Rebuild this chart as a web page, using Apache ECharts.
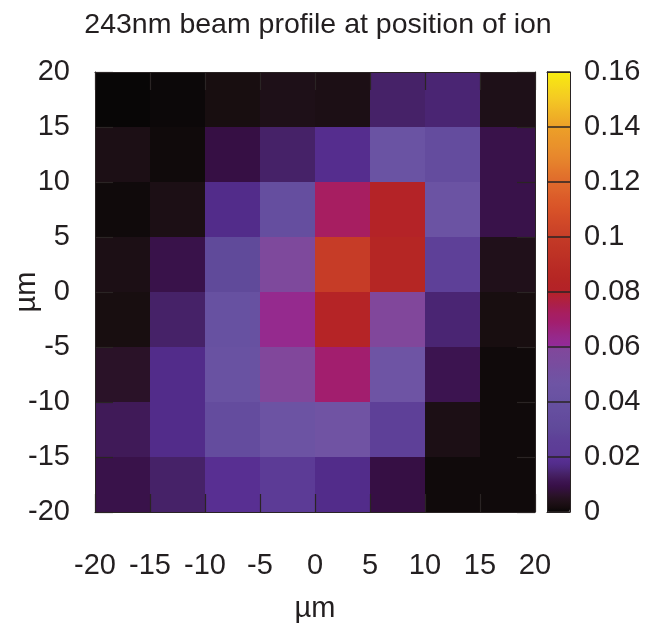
<!DOCTYPE html>
<html>
<head>
<meta charset="utf-8">
<script src="https://cdn.jsdelivr.net/npm/echarts@6/dist/echarts.min.js"></script>
<style>
  html, body { margin: 0; padding: 0; background: #ffffff; }
  #chart { width: 651px; height: 630px; }
</style>
</head>
<body>
<div id="chart"></div>
<script>
// Cell centres in µm (5 µm pitch)
const xCentres = [-17.5, -12.5, -7.5, -2.5, 2.5, 7.5, 12.5, 17.5];
const yCentres = [17.5, 12.5, 7.5, 2.5, -2.5, -7.5, -12.5, -17.5];

// Measured intensity, one row per y position (top to bottom)
const rowY17 = [0.000, 0.0005, 0.002, 0.0035, 0.003, 0.014, 0.015, 0.0035];
const rowY12 = [0.003, 0.001, 0.009, 0.014, 0.018, 0.042, 0.035, 0.010];
const rowY7 = [0.001, 0.003, 0.017, 0.038, 0.072, 0.081, 0.043, 0.010];
const rowY2 = [0.003, 0.010, 0.031, 0.057, 0.100, 0.085, 0.026, 0.004];
const rowYm2 = [0.002, 0.014, 0.040, 0.063, 0.083, 0.059, 0.015, 0.002];
const rowYm7 = [0.006, 0.017, 0.041, 0.059, 0.069, 0.047, 0.011, 0.001];
const rowYm12 = [0.012, 0.017, 0.035, 0.045, 0.048, 0.026, 0.003, 0.001];
const rowYm17 = [0.010, 0.014, 0.019, 0.021, 0.017, 0.009, 0.001, 0.001];
const intensityRows = [rowY17, rowY12, rowY7, rowY2, rowYm2, rowYm7, rowYm12, rowYm17];

// Colour-bar range and ticks
const cbMin = 0, cbMax = 0.16, cbStep = 0.02;

// Palette: black -> violet -> magenta -> red -> orange -> yellow
const paletteStops = [
  [0.000, '#080606'], [0.002, '#180e10'], [0.004, '#20101a'], [0.006, '#2a1228'],
  [0.009, '#360f44'], [0.011, '#3c1450'], [0.012, '#401a58'], [0.014, '#462268'],
  [0.017, '#522c8a'], [0.0199, '#5a3096'], [0.0201, '#5c3a96'], [0.026, '#5e4098'],
  [0.031, '#604a9a'], [0.035, '#644c9e'], [0.0399, '#6650a0'], [0.0401, '#6852a2'],
  [0.047, '#6e54a4'], [0.0599, '#82469a'], [0.0601, '#94289a'], [0.063, '#952a8e'],
  [0.069, '#a21e6e'], [0.073, '#a81e5c'], [0.0799, '#b42228'], [0.085, '#b52624'],
  [0.0999, '#c43a26'], [0.1001, '#c83e28'], [0.110, '#d85228'], [0.120, '#e06a2c'],
  [0.130, '#e88a2c'], [0.140, '#eca028'], [0.150, '#f4c824'], [0.160, '#f8ec10']
];

function hexToRgb(h) {
  const n = parseInt(h.slice(1), 16);
  return [(n >> 16) & 255, (n >> 8) & 255, n & 255];
}
function paletteAt(v) {
  for (let i = 1; i < paletteStops.length; i++) {
    const [v1, c1] = paletteStops[i];
    if (v <= v1) {
      const [v0, c0] = paletteStops[i - 1];
      const t = (v - v0) / (v1 - v0);
      const a = hexToRgb(c0), b = hexToRgb(c1);
      const r = a.map((x, k) => Math.round(x + (b[k] - x) * t));
      return 'rgb(' + r.join(',') + ')';
    }
  }
  return paletteStops[paletteStops.length - 1][1];
}
const paletteColors = [];
for (let i = 0; i <= 320; i++) paletteColors.push(paletteAt(cbMin + (cbMax - cbMin) * i / 320));

// [x, y, value] triples for the cells
const cells = [];
intensityRows.forEach((row, j) => row.forEach((v, i) => cells.push([xCentres[i], yCentres[j], v])));
const halfX = (xCentres[1] - xCentres[0]) / 2;
const halfY = (yCentres[0] - yCentres[1]) / 2;

const FONT = "'Liberation Sans', Arial, sans-serif";
const TXT = '#231f20';
const EDGE = '#2a2424';
const FS = 29;

const chart = echarts.init(document.getElementById('chart'), null, { renderer: 'canvas' });

function frameAxis(extra) {
  return Object.assign({
    type: 'value', z: 6,
    splitLine: { show: false },
    axisLine: { show: true, onZero: false, lineStyle: { color: EDGE, width: 1 } },
    axisTick: { show: true, inside: true, length: 18, lineStyle: { color: EDGE, width: 1.2 } },
    axisLabel: { show: false }
  }, extra);
}

chart.setOption({
  animation: false,
  backgroundColor: '#ffffff',
  title: {
    text: '243nm beam profile at position of ion',
    left: 313, top: 6, textAlign: 'center',
    textStyle: { fontFamily: FONT, fontSize: 28.5, fontWeight: 'normal', color: TXT }
  },
  grid: [
    { left: 95, top: 72, width: 440, height: 440, outerBoundsMode: 'none', containLabel: false },
    { left: 547, top: 72, width: 23, height: 440, outerBoundsMode: 'none', containLabel: false }
  ],
  xAxis: [
    frameAxis({
      gridIndex: 0, position: 'bottom', min: -20, max: 20, interval: 5,
      name: 'µm', nameLocation: 'middle', nameGap: 82, nameMoveOverlap: false,
      nameTextStyle: { fontFamily: FONT, fontSize: FS, color: TXT },
      axisLabel: { show: true, margin: 39, fontFamily: FONT, fontSize: FS, color: TXT }
    }),
    frameAxis({ gridIndex: 0, position: 'top', min: -20, max: 20, interval: 5 }),
    frameAxis({ gridIndex: 1, position: 'bottom', min: 0, max: 1, axisTick: { show: false } }),
    frameAxis({ gridIndex: 1, position: 'top', min: 0, max: 1, axisTick: { show: false } })
  ],
  yAxis: [
    frameAxis({
      gridIndex: 0, position: 'left', min: -20, max: 20, interval: 5,
      name: 'µm', nameLocation: 'middle', nameGap: 54, nameRotate: 90, nameMoveOverlap: false,
      nameTextStyle: { fontFamily: FONT, fontSize: FS, color: TXT },
      axisLabel: { show: true, margin: 25, fontFamily: FONT, fontSize: FS, color: TXT }
    }),
    frameAxis({ gridIndex: 0, position: 'right', min: -20, max: 20, interval: 5 }),
    frameAxis({
      gridIndex: 1, position: 'right', min: cbMin, max: cbMax, interval: cbStep,
      axisTick: { show: true, inside: true, length: 12, lineStyle: { color: EDGE, width: 1.5 } },
      axisLabel: { show: true, margin: 14, fontFamily: FONT, fontSize: FS, color: TXT }
    }),
    frameAxis({
      gridIndex: 1, position: 'left', min: cbMin, max: cbMax, interval: cbStep,
      axisTick: { show: true, inside: true, length: 12, lineStyle: { color: EDGE, width: 1.5 } }
    })
  ],
  visualMap: {
    type: 'continuous', seriesIndex: 0, dimension: 2,
    min: cbMin, max: cbMax, calculable: false, orient: 'vertical',
    left: 547, top: 72, itemWidth: 23, itemHeight: 440, padding: 0,
    inRange: { color: paletteColors }, hoverLink: false
  },
  series: [{
    type: 'custom', xAxisIndex: 0, yAxisIndex: 0, z: 2,
    encode: { x: 0, y: 1 },
    data: cells,
    renderItem: function (params, api) {
      const x = api.value(0), y = api.value(1);
      const p0 = api.coord([x - halfX, y + halfY]);
      const p1 = api.coord([x + halfX, y - halfY]);
      return {
        type: 'rect',
        shape: { x: p0[0], y: p0[1], width: p1[0] - p0[0], height: p1[1] - p0[1] },
        style: { fill: api.visual('color') }
      };
    }
  }]
});
</script>
</body>
</html>
